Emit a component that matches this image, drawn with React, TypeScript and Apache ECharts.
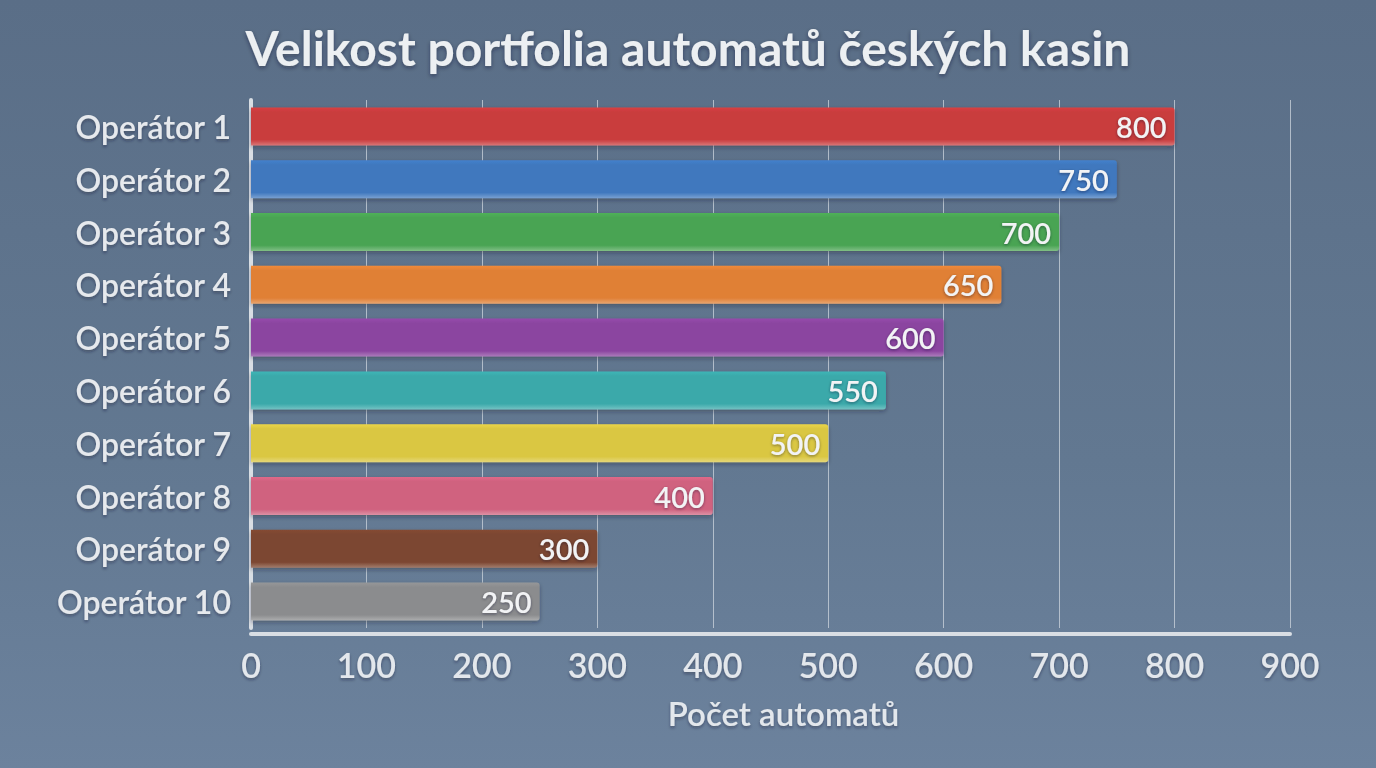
import React, { useEffect, useRef } from "react";
import * as echarts from "echarts";

const categories = [
  "Operátor 1",
  "Operátor 2",
  "Operátor 3",
  "Operátor 4",
  "Operátor 5",
  "Operátor 6",
  "Operátor 7",
  "Operátor 8",
  "Operátor 9",
  "Operátor 10",
];
const values = [800, 750, 700, 650, 600, 550, 500, 400, 300, 250];
const barColors = [
  "#c93c3e",
  "#3f78be",
  "#4aa453",
  "#e08036",
  "#8b45a0",
  "#3aa9aa",
  "#dac742",
  "#d0627f",
  "#7c4631",
  "#8b8c8e",
];

const FONT = "Lato, 'Open Sans', 'Noto Sans', sans-serif";

export default function App() {
  const ref = useRef<HTMLDivElement>(null);
  useEffect(() => {
    document.body.style.margin = "0";
    const chart = echarts.init(ref.current!, null, { renderer: "svg" });
    const shadeData = values.map((v, i) => ({
      value: v,
      itemStyle: {
        color: new echarts.graphic.LinearGradient(0, 0, 0, 1, [
          { offset: 0, color: echarts.color.lift(barColors[i], -0.08) },
          { offset: 0.12, color: barColors[i] },
          { offset: 0.85, color: barColors[i] },
          { offset: 1, color: echarts.color.lift(barColors[i], 0.3) },
        ]),
        borderRadius: [0, 3, 3, 0],
        shadowColor: "rgba(20,30,45,0.35)",
        shadowBlur: 4,
        shadowOffsetY: 2,
      },
    }));
    const shadow = {
      textShadowColor: "rgba(20,30,45,0.4)",
      textShadowBlur: 3,
      textShadowOffsetY: 2,
    };
    chart.setOption({
      animation: false,
      backgroundColor: new echarts.graphic.LinearGradient(0, 0, 0, 1, [
        { offset: 0, color: "#5a6e87" },
        { offset: 0.6, color: "#627891" },
        { offset: 1, color: "#6c829d" },
      ]),
      title: {
        text: "Velikost portfolia automatů českých kasin",
        left: "center",
        top: 18,
        textStyle: {
          fontFamily: FONT,
          fontWeight: "bold",
          fontSize: 48,
          color: "#eceff2",
          textShadowColor: "rgba(20,30,45,0.45)",
          textShadowBlur: 4,
          textShadowOffsetY: 2,
        },
      },
      grid: { left: 251, right: 86, top: 100, bottom: 140, containLabel: false },
      xAxis: {
        type: "value",
        min: 0,
        max: 900,
        interval: 100,
        offset: 6,
        name: "Počet automatů",
        nameLocation: "middle",
        nameGap: 62,
        nameTextStyle: {
          fontFamily: FONT,
          fontSize: 33,
          fontWeight: 600,
          color: "#e3e7ec",
          padding: [0, 0, 0, 26],
          ...shadow,
        },
        axisLine: {
          show: true,
          lineStyle: { color: "#d9dee4", width: 4 },
        },
        axisTick: { show: false },
        axisLabel: {
          margin: 13,
          fontFamily: FONT,
          fontSize: 34,
          fontWeight: 600,
          color: "#e3e7ec",
          ...shadow,
        },
        splitLine: {
          show: true,
          lineStyle: { color: "rgba(205,213,222,0.75)", width: 1 },
        },
      },
      yAxis: {
        type: "category",
        data: categories,
        inverse: true,
        axisLine: {
          show: true,
          onZero: false,
          lineStyle: { color: "#d9dee4", width: 4 },
        },
        axisTick: { show: false },
        axisLabel: {
          margin: 20,
          fontFamily: FONT,
          fontSize: 32,
          fontWeight: 600,
          color: "#e6e9ed",
          ...shadow,
        },
        splitLine: { show: false },
      },
      series: [
        {
          type: "bar",
          data: shadeData,
          barWidth: 38,
          label: {
            show: true,
            position: "insideRight",
            distance: 8,
            fontFamily: FONT,
            fontSize: 29,
            fontWeight: 600,
            color: "#f2f3f5",
            textShadowColor: "rgba(20,30,45,0.45)",
            textShadowBlur: 3,
            textShadowOffsetY: 1,
          },
        },
      ],
    });
    return () => chart.dispose();
  }, []);
  return <div ref={ref} style={{ width: 1376, height: 768 }} />;
}
